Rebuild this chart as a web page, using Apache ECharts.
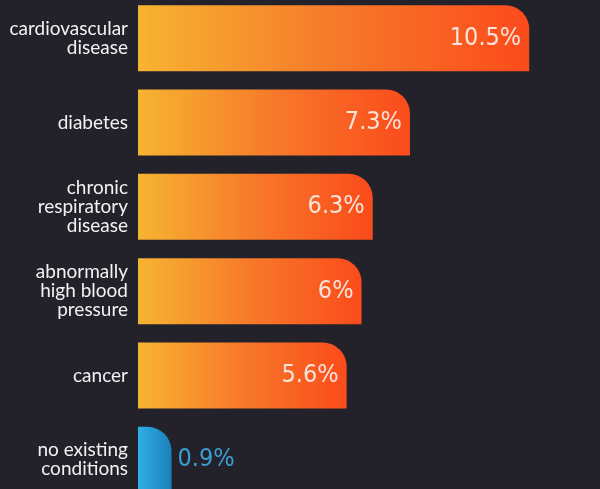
<!DOCTYPE html>
<html>
<head>
<meta charset="utf-8">
<script src="https://cdn.jsdelivr.net/npm/echarts@6/dist/echarts.min.js"></script>
<style>
  html, body { margin: 0; padding: 0; background: #23222a; overflow: hidden; }
  #chart { position: absolute; left: 0; top: -4px; width: 600px; height: 506px; }
</style>
</head>
<body>
<div id="chart"></div>
<script>
const categories = [
  'cardiovascular\ndisease',
  'diabetes',
  'chronic\nrespiratory\ndisease',
  'abnormally\nhigh blood\npressure',
  'cancer',
  'no existing\nconditions',
];
const values = [10.5, 7.3, 6.3, 6, 5.6, 0.9];

const warmGradient = () => new echarts.graphic.LinearGradient(0, 0, 1, 0, [
  { offset: 0, color: '#f6b431' },
  { offset: 0.5, color: '#f7792a' },
  { offset: 1, color: '#fb4b1b' },
]);
const coolGradient = () => new echarts.graphic.LinearGradient(0, 0, 1, 0, [
  { offset: 0, color: '#2fb0e6' },
  { offset: 1, color: '#1b7fb8' },
]);

const seriesData = values.map((v, i) => {
  const isLast = i === values.length - 1;
  return {
    value: v,
    itemStyle: { color: isLast ? coolGradient() : warmGradient() },
    label: isLast ? {
      position: 'right',
      distance: 6,
      color: '#3a9fd2',
    } : {
      position: 'insideRight',
      distance: 8,
      color: '#f6e4da',
    },
  };
});

const chart = echarts.init(document.getElementById('chart'));
chart.setOption({
  backgroundColor: '#23222a',
  animation: false,
  grid: { left: 138, top: 0, right: 0, bottom: 0, containLabel: false },
  xAxis: { type: 'value', min: 0, max: 12.4, show: false },
  yAxis: {
    type: 'category',
    inverse: true,
    data: categories,
    axisLine: { show: false },
    axisTick: { show: false },
    splitLine: { show: false },
    axisLabel: {
      margin: 10,
      color: '#f2f2f2',
      fontFamily: 'Lato, "Noto Sans", sans-serif',
      fontSize: 19,
      lineHeight: 19,
      align: 'right',
    },
  },
  series: [{
    type: 'bar',
    data: seriesData,
    barWidth: 66,
    itemStyle: { borderRadius: [0, 24, 0, 0] },
    label: {
      show: true,
      formatter: (p) => p.value + '%',
      fontFamily: '"DejaVu Sans Condensed", "Liberation Sans Narrow", Roboto, sans-serif',
      fontWeight: 300,
      fontSize: 25,
    },
  }],
});
</script>
</body>
</html>
